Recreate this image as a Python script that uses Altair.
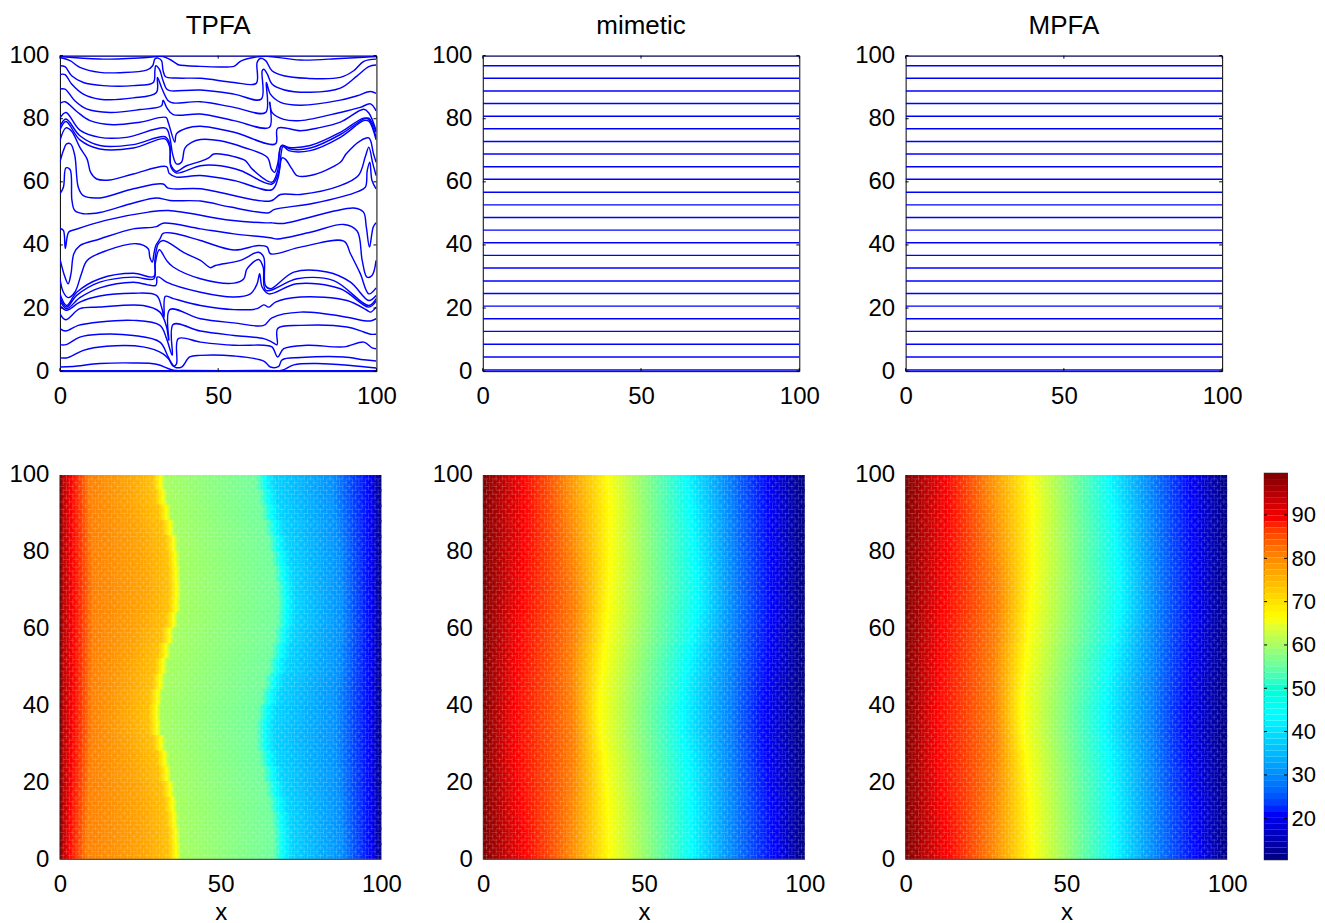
import altair as alt
import pandas as pd
import numpy as np

FONT = "Liberation Sans"
FS = 24
BLUE = "#0000ff"

# --- TPFA streamlines: (x, y) in data units
TPFA_LINES = [
 [(0,99.7),(12.6,98.9),(27.4,99.4),(32.6,99.7),(36.8,97.5),(37.4,97.1),(44.4,96.6),(55,96.6),(56,97.3),(57,98.2),(62.3,99.6),(65.5,99.8),(76,98.6),(88.6,99.1),(99.9,99.7)],
 [(0,99.4),(3.2,98.4),(6.3,96.3),(12.6,94.7),(19,94.6),(27.4,95.4),(29.3,96.8),(30,98.9),(31,99.2),(32.1,98.4),(32.6,95.2),(33.4,93.3),(36.8,92.9),(44.4,92.8),(55,91.5),(62,91.2),(62.3,97.8),(63.3,99.1),(65,98.4),(67,95.2),(70.7,93.6),(78,92.8),(88.6,93.1),(92.8,95.2),(96,98.2),(99.9,98.9)],
 [(0,96.8),(1.6,96.5),(3.7,93.6),(7.4,91.5),(13.7,90.5),(23.2,90.5),(29.5,91.5),(30,95.2),(30.3,96.8),(31.4,95.7),(32.6,92),(33.7,89.4),(34.7,88.9),(44.4,89.1),(55,87.8),(63.6,86.2),(63.9,95.2),(64.4,95.7),(65.5,94.2),(67,91),(70.7,89.2),(79.1,88.4),(88.6,89.7),(93.9,93.6),(97.6,96.5),(99.9,97)],
 [(0,94),(1.6,94),(3.7,91),(7.4,87.8),(12.6,86.2),(23.2,86.6),(30.5,88.3),(30.8,93.1),(32.1,89.9),(34.2,85.7),(35.8,85),(44.4,85.4),(55,83.6),(65,82),(65.2,91.5),(66.5,87.8),(69.7,85.2),(76,84.3),(88.6,85.9),(93.9,87.3),(98.1,88.6),(99.9,88)],
 [(0,89.4),(1.6,89.4),(4.7,85.7),(8.4,83.1),(15.8,82),(25.3,82.9),(32.1,84.1),(32.6,85.9),(33.7,83.6),(35.8,81.3),(44.4,81.5),(55,79.4),(66.2,77.3),(66.3,85.2),(67,82),(70.7,79.8),(76,79.4),(88.6,82),(94.9,83.6),(98.1,84.7),(99.9,82.5)],
 [(0,84.9),(1.6,85.4),(5.3,82.3),(9.5,79.4),(16.8,78.1),(25.3,78.9),(33.5,80.4),(34.2,78.9),(36.3,72.5),(36.8,75.2),(40,77),(44.4,77.6),(55,75.7),(68.1,72),(68.8,77),(76,76.2),(81.2,77),(88.6,78.9),(96,83),(97.6,81.8),(99.9,76.2)],
 [(0,80.2),(1.9,82),(6.3,76.4),(12.6,74.1),(21,74.1),(33.4,77),(34.7,74.1),(35.6,68.8),(36.8,65.7),(38.4,66.2),(39.5,70.7),(41.6,72.5),(44.4,73.4),(50.7,73),(58.1,70.9),(65.5,67.8),(66.8,64.1),(67.8,63),(68.8,65.7),(69.7,71),(70.4,71.5),(72.8,70.4),(79.1,70.7),(88.6,75),(96,79.9),(97.6,80.2),(99.9,75.7)],
 [(0,77.5),(1.9,79.9),(6.3,74.6),(12.6,71.5),(23.2,71.8),(33.2,74.3),(34.7,72),(34.9,65.7),(35.8,64.1),(36.8,63.3),(40,65.1),(44.4,66.5),(47,67.6),(48.6,68.8),(55,68),(58.6,66.7),(60.7,64.1),(67,59.9),(68.8,63.6),(70,71.5),(72.3,70.9),(79.1,71.5),(88.6,75.7),(96,80.2),(97.6,79.8),(99.9,74.1)],
 [(0,76.4),(1.9,79.1),(6.3,73.3),(12.6,70.4),(23.2,70.7),(33.2,73.6),(34.7,70.9),(35.1,64.6),(36.8,62.8),(44.4,65.1),(50.7,65.1),(57,63.6),(67,59.3),(69.1,63),(70.5,71.2),(72.3,69.9),(79.1,69.9),(88.6,74.1),(96,79.4),(97.6,79.2),(99.9,73.3)],
 [(0,73),(1.9,77.1),(3.7,76),(6.3,70.9),(8.6,67.2),(9.7,63),(11.6,60.9),(15.8,60.6),(23.2,62.5),(33.7,64.8),(34.5,62.7),(36.8,61.5),(44.4,62),(55,60.4),(67,57.5),(68.9,61.2),(70.2,67.6),(71.2,67.2),(73.3,64.1),(74.9,62),(79.1,62),(88.6,66.2),(90.4,68.8),(94.9,73),(97.6,73.9),(99.1,68.8),(99.9,66.2)],
 [(0,66.2),(1.1,69.9),(2.1,72),(3.4,72),(4.7,68.3),(5.8,58.3),(7.4,55.6),(12.6,54.9),(23.2,57.8),(32.6,59.3),(34.2,58),(44.4,57.8),(66.5,53.9),(69.7,56),(76,56),(88.6,58.8),(94.3,62),(96.5,68),(97.6,71),(98.8,66),(99.9,62)],
 [(0,56.2),(1.1,58.3),(1.9,64.4),(3.2,63.9),(3.8,54.1),(4.7,50.9),(7.4,49.9),(12.6,50.3),(23.2,53.3),(30.5,54.9),(34.7,54.1),(44.4,53.9),(53.9,52),(66,50.2),(67.6,51.2),(80.2,53.2),(94.3,57),(96.5,58.3),(97.1,63.6),(97.9,66.2),(98.6,60.4),(99.9,57.8)],
 [(0,45.2),(1.1,44.6),(1.7,38.9),(2.8,44.1),(4.9,44.9),(14.4,47.8),(28,50.4),(34.3,50.9),(53.9,47.8),(65,47),(67,47),(70.6,46.8),(92.8,51.7),(95.9,50.4),(96.8,45.7),(97.8,39.3),(99,45.7),(99.9,47)],
 [(0,35.6),(1.6,29.8),(2.6,27.7),(3.5,30.9),(4.4,37.2),(6.3,39.8),(12.6,41.9),(23.2,45.1),(30.5,45.8),(32.6,46.9),(44.4,45.1),(55,43.5),(66.5,42.3),(68.6,41.9),(79.1,44),(89.7,46.5),(93.9,44.4),(95.5,35.1),(97,29.8),(98.6,30.3),(99.9,35.1)],
 [(0,29.3),(1.1,25),(2.6,23.3),(4.7,25),(6.8,30.9),(8.6,35.1),(14.7,38.2),(24.2,40.4),(27.9,38.8),(28.4,36.1),(29.2,34.6),(29.7,37.2),(30.3,39.8),(31.6,41.9),(32.6,43.7),(35.8,43.7),(44.4,41.4),(55,38.4),(62.8,39.8),(65.5,39.3),(66.5,37.2),(76,39.3),(89.7,41.2),(91.8,37.2),(94.9,30.9),(97.6,24.5),(99.9,26.4)],
 [(0,24.5),(2.1,20.8),(5.3,25),(12.6,29.3),(23.2,31),(29.7,30),(30,35.1),(31.1,40.4),(32.6,41.4),(39.5,37.4),(44.4,35.1),(47.6,32.8),(49.1,33.5),(57,35.1),(62.8,37.7),(64.4,36.1),(64.9,27.2),(66.5,26.1),(73.9,31.4),(84.4,31.4),(91.8,28.2),(97.6,22.4),(99.9,24)],
 [(0,23.3),(2.1,20.3),(5.3,24),(12.6,28.2),(23.2,29.8),(29.7,29.3),(30.1,34),(31.4,38.5),(33.7,35.1),(35.8,33),(44.4,29.3),(55,27.9),(58.1,29.3),(59.1,32.4),(62.8,35.4),(64.2,33),(65.1,25.6),(74.9,29.3),(86.5,28.7),(97.6,20.8),(99.9,23)],
 [(0,22.4),(2.1,19.8),(6.3,23.3),(12.6,26.4),(23.2,28.2),(30.3,27.2),(30.7,29.8),(31.4,29.8),(33.7,28.2),(44.4,25),(55,23.5),(60.2,24.5),(62.3,27.7),(63.1,30.9),(63.9,26.6),(66,24.5),(74.9,27.7),(88.6,26.1),(97.6,20.3),(99.9,22.2)],
 [(0,20.8),(2.1,19.3),(6.3,21.9),(12.6,23.8),(23.2,24.7),(30.5,24),(32.1,20.3),(32.9,17.1),(33.3,23.7),(35.8,23),(44.4,20.8),(55,19.5),(62.3,19.8),(64.4,21),(66,20.3),(68.1,21.9),(76,23.5),(90.7,22.4),(97,19.3),(98.1,18.7),(99.9,20.3)],
 [(0,18.2),(1.8,16.3),(6.3,19.8),(12.6,20.3),(26.3,20.8),(31.6,18.7),(33.7,14),(34.4,9.8),(34.7,19.5),(44.4,16.6),(55,15.3),(64.4,14.5),(67,16.9),(76,18.7),(90.7,17.1),(96,16),(98.1,15.9),(99.9,16.6)],
 [(0,13.5),(1.8,12.7),(5.8,14.5),(12.6,15.6),(23.2,16.1),(31.6,14.5),(33.7,10.3),(35.5,5),(35.8,14.8),(44.4,12.7),(55,11.3),(64.4,10.3),(67,9.2),(68.6,8.4),(68.8,13.5),(76,14.5),(90.7,14),(96,12.4),(98.1,11.7),(99.9,11.7)],
 [(0,8.4),(1.9,8.4),(6.3,10.8),(12.6,11.7),(23.2,11.3),(31.6,9.2),(34.2,4.5),(35.8,1.6),(36.8,2.2),(37.4,10.3),(44.4,9.2),(55,8.2),(64.4,8.2),(67,7.7),(68.8,4.5),(70.7,7.1),(78.1,8.2),(89.7,7.7),(96,9.2),(98.6,7.4),(99.9,7.1)],
 [(0,4.2),(2.6,4.3),(7.4,6.6),(14.7,7.9),(26.3,7.7),(32.6,5.5),(34.7,3.4),(36.3,1.3),(38.4,1.3),(41,4.5),(44.4,5),(55,4.8),(64.4,3.2),(66.5,1.3),(69.1,1.5),(70.2,3.6),(76,4.3),(89.7,4.5),(96,3.6),(99.9,3.2)],
 [(0,1.3),(4.2,1.5),(12.6,2.4),(23.2,2.6),(30.5,2.2),(35.8,0.3),(40,0.2),(65,0.2),(70.2,0.3),(73.9,2),(81.2,2.4),(91.8,1.8),(99.9,1)],
 [(0,0.1),(99.9,0.1)],
 [(0,99.95),(99.9,99.95)],
]

# --- horizontal streamlines of the two other top panels
FLAT_LEVELS = [0.0,0.4,4.5,8.5,12.6,16.6,20.6,24.6,28.6,32.7,36.7,40.7,44.7,48.7,52.7,56.7,60.8,64.8,68.8,72.8,76.8,80.8,84.8,88.8,92.8,96.8,100.0]
X_ENDS = [0, 100]

# --- heat maps: for each row, the x at which a colour is reached
ROW_Y = [98,94,90,86,82,78,74,70,66,62,58,54,50,46,42,38,34,30,26,22,18,14,10,6,2]
ROW_HALF = 2.3

T_RED    = [3.6,3.6,3.7,3.8,3.9,4.0,4.0,4.1,4.2,4.2,4.2,4.2,4.2,4.2,4.2,4.0,4.0,3.9,3.8,3.6,3.4,3.2,3.0,2.9,2.8]
T_ORANGE = [9.0,9.2,9.4,9.6,9.8,10,10.2,10.2,10.2,10.2,10.2,10,10,9.8,9.8,9.8,9.8,9.6,9.4,9.2,9.0,8.8,8.6,8.4,8.2]
T_YELLOW = [31.3,32.0,33.1,34.3,35.3,35.8,36.1,36.3,36.1,35.3,34.1,33.0,32.0,31.2,30.4,30.0,30.2,31.4,32.5,33.2,34.3,35.0,35.5,36.0,36.2]
T_CYAN   = [63.9,64.8,65.7,66.8,67.8,68.8,69.5,70.2,70.5,70.3,69.6,68.8,67.8,66.6,65.5,64.5,63.9,64.0,65.0,66.0,67.0,68.0,68.8,69.2,69.3]
T_AZURE  = [85,85,85.5,86,86.5,87,87,87.5,87.5,87.5,87.5,87,87,86.5,86,86,86,86,86,86.5,86.5,87,87,87.5,87.5]
T_BLUE   = [96.4,96.4,96.5,96.5,96.6,96.6,96.6,96.7,96.7,96.7,96.7,96.6,96.6,96.6,96.6,96.5,96.5,96.5,96.5,96.5,96.6,96.6,96.7,96.7,96.8]

M_RED    = [12.5,12.8,13,13,12.8,12.6,12.2,12,11.8,11.4,11,10.8,10.5,10.2,10,9.8,9.8,10,10.2,10.5,11,11.4,12,12.6,13]
M_ORANGE = [25,25.5,26,26.5,27,27.5,28,28.3,28.5,28.3,28,27.6,27.4,27.3,27.5,27.6,27.8,28,27.8,27.6,27.4,27,26.8,26.6,26.4]
M_YELLOW = [38.8,39.3,39.4,39.4,39.4,39.4,39.3,39.1,38.8,38.4,38.2,37.6,37.2,36.7,36.3,36.2,36.5,36.9,37.6,38,38.4,38.7,38.9,39.1,39.3]
M_GREEN  = [51.2,51.5,51.8,52,52.2,52.4,52.6,52.6,52.4,52.1,51.6,51,50.4,50,49.6,49.4,49.4,49.8,50.4,50.9,51.3,51.6,51.9,52.1,52.3]
M_CYAN   = [63.2,63.9,64.5,65,65.3,65.8,66.2,66.4,66.4,65.8,65.1,64.1,63.3,62.7,62.2,61.9,61.8,62.4,63.3,63.7,64.1,64.4,64.6,64.7,64.7]
M_AZURE  = [76.7,77,77.3,77.6,77.8,78,78.2,78.4,78.4,78.2,78,77.8,77.6,77.3,77.1,77,77,77.2,77.4,77.6,77.8,78,78,78.2,78.2]
M_BLUE   = [88.6,88.8,89,89.2,89.4,89.6,89.8,89.8,89.8,89.6,89.4,89,88.6,88.2,87.8,87.5,87.5,87.8,88.2,88.8,89.2,89.8,90.2,90.5,90.7]

MESH_ODD = list(range(1, 100, 2))
MESH_EVEN = list(range(2, 100, 2))
X_TICKS = [0, 50, 100]
Y_TICKS = [0, 20, 40, 60, 80, 100]
CB_TICKS = [20, 30, 40, 50, 60, 70, 80, 90]
CB_MIN, CB_MAX = 10.5, 99.7
JET_T = [0, 0.125, 0.375, 0.625, 0.875, 1]
JET_C = ["#000080", "#0000ff", "#00ffff", "#ffff00", "#ff0000", "#800000"]


def make_axes(xtitle=None):
    ax_x = dict(values=X_TICKS, domain=False, ticks=False, grid=False, labelPadding=13, labelOverlap=False,
                labelFlush=False, title=None)
    if xtitle:
        ax_x.update(title=xtitle, titleX=161, titleY=60, titleFontWeight="normal", titleFontSize=FS,
                    titleFont=FONT, titleBaseline="alphabetic", titleColor="black")
    ax_y = dict(values=Y_TICKS, domain=False, ticks=False, grid=False, labelPadding=11, labelOverlap=False,
                labelFlush=False, title=None)
    return alt.Axis(**ax_x), alt.Axis(**ax_y)


def top_panel(title, lines, w=317, h=316):
    xs = alt.Scale(domain=[0, 100], nice=False, zero=False)
    ys = alt.Scale(domain=[0, 100], nice=False, zero=False)
    ax, ay = make_axes()
    rows = []
    for k, ln in enumerate(lines):
        for i, (x, y) in enumerate(ln):
            rows.append({"k": k, "i": i, "x": x, "y": y})
    curve = alt.Chart(pd.DataFrame(rows)).mark_line(color=BLUE, strokeWidth=1.45, clip=True, interpolate="catmull-rom").encode(
        x=alt.X("x:Q", scale=xs, axis=ax),
        y=alt.Y("y:Q", scale=ys, axis=ay),
        detail="k:N",
        order="i:Q",
    )
    yt = pd.DataFrame({"t": Y_TICKS})
    xt = pd.DataFrame({"t": X_TICKS})
    layers = [curve]
    for a, b in [(0, 3), (w - 3, w)]:
        layers.append(alt.Chart(yt).mark_rule(color="black").encode(
            y=alt.Y("t:Q", scale=ys, axis=ay), x=alt.value(a), x2=alt.value(b)))
    for a, b in [(h - 3, h), (0, 3)]:
        layers.append(alt.Chart(xt).mark_rule(color="black").encode(
            x=alt.X("t:Q", scale=xs, axis=ax), y=alt.value(a), y2=alt.value(b)))
    return alt.layer(*layers).properties(
        width=w, height=h,
        view=alt.ViewBackground(stroke="black", strokeWidth=1),
        title=alt.TitleParams(title, fontSize=26, fontWeight="normal", font=FONT, offset=5, color="black"),
    )


def heat_panel(columns, colors, w, h=387):
    xs = alt.Scale(domain=[0, 100 * w / 322], nice=False, zero=False)
    ys = alt.Scale(domain=[0, 100.52], nice=False, zero=False)
    ax, ay = make_axes("x")
    layers = []
    for r, yc in enumerate(ROW_Y):
        stops = [alt.GradientStop(color=c, offset=col[r] / 100) for col, c in zip(columns, colors)]
        top = min(yc + ROW_HALF, 100)
        low = max(yc - ROW_HALF, 0)
        d = pd.DataFrame({"a": [0], "b": [100], "lo": [low], "hi": [top]})
        layers.append(
            alt.Chart(d).mark_rect(color=alt.Gradient(gradient="linear", stops=stops, x1=0, x2=1, y1=0, y2=0)).encode(
                x=alt.X("a:Q", scale=xs, axis=ax), x2="b:Q",
                y=alt.Y("lo:Q", scale=ys, axis=ay), y2="hi:Q",
            )
        )
    for mesh, off in [(MESH_ODD, 0), (MESH_EVEN, 4.8)]:
        md = pd.DataFrame({"g": mesh, "a": 0, "b": 100})
        layers.append(alt.Chart(md).mark_rule(color="white", opacity=0.25, strokeWidth=0.7, strokeDash=[6.4, 3.2], strokeDashOffset=off).encode(
            x=alt.X("g:Q", scale=xs, axis=ax), y=alt.Y("a:Q", scale=ys, axis=ay), y2="b:Q"))
        layers.append(alt.Chart(md).mark_rule(color="white", opacity=0.25, strokeWidth=0.7, strokeDash=[6.4, 3.2], strokeDashOffset=off + 1.6).encode(
            y=alt.Y("g:Q", scale=ys, axis=ay), x=alt.X("a:Q", scale=xs, axis=ax), x2="b:Q"))
    base = pd.DataFrame({"a": [0], "b": [100], "y": [0]})
    layers.append(alt.Chart(base).mark_rule(color="#555555", strokeWidth=1.2).encode(
        x=alt.X("a:Q", scale=xs, axis=ax), x2="b:Q", y=alt.Y("y:Q", scale=ys, axis=ay)))
    left = pd.DataFrame({"x": [0], "a": [0], "b": [100]})
    layers.append(alt.Chart(left).mark_rule(color="#222222", strokeWidth=0.8).encode(
        x=alt.X("x:Q", scale=xs, axis=ax), y=alt.Y("a:Q", scale=ys, axis=ay), y2="b:Q"))
    return alt.layer(*layers).properties(width=w, height=h, view=alt.ViewBackground(stroke=None))


# colour stops: TPFA has a sharp front around yellow and around cyan
T_COLUMNS = [
    [0] * 25, [1.2] * 25, T_RED, T_ORANGE,
    [v - 10 for v in T_YELLOW], [v - 2.5 for v in T_YELLOW], T_YELLOW, [v + 1.5 for v in T_YELLOW],
    [v - 3 for v in T_CYAN], T_CYAN, [v + 3 for v in T_CYAN], T_AZURE, T_BLUE, [100] * 25,
]
T_COLORS = ["#800000", "#c00000", "#ff0000", "#ff8000", "#ffa400", "#ffc000", "#ffff00", "#a4ff5c",
            "#70ff9c", "#00ffff", "#00d4ff", "#0090ff", "#0000ff", "#000080"]
M_COLUMNS = [[0] * 25, M_RED, M_ORANGE, M_YELLOW, M_GREEN, M_CYAN, M_AZURE, M_BLUE, [100] * 25]
M_COLORS = ["#800000", "#ff0000", "#ff8000", "#ffff00", "#80ff80", "#00ffff", "#0080ff", "#0000ff", "#000080"]

# colour bar
edges = np.linspace(CB_MIN, CB_MAX, 65)
cb = pd.DataFrame({"lo": edges[:-1], "hi": edges[1:], "v": (edges[:-1] + edges[1:]) / 2})
cb_y = alt.Scale(domain=[CB_MIN, CB_MAX], nice=False, zero=False)
cb_color = alt.Scale(domain=[CB_MIN + t * (CB_MAX - CB_MIN) for t in JET_T], range=JET_C)
cb_ax = alt.Axis(orient="right", values=CB_TICKS, domain=False, ticks=False, grid=False, labelPadding=4,
                 labelFontSize=22, title=None, labelFlush=False)
cb_t = pd.DataFrame({"t": CB_TICKS})
bar = alt.layer(
    alt.Chart(cb).mark_rect(stroke=None).encode(
        x=alt.value(0), x2=alt.value(23),
        y=alt.Y("lo:Q", scale=cb_y, axis=cb_ax),
        y2="hi:Q",
        color=alt.Color("v:Q", scale=cb_color, legend=None),
    ),
    alt.Chart(cb_t).mark_rule(color="black").encode(y=alt.Y("t:Q", scale=cb_y, axis=cb_ax), x=alt.value(0), x2=alt.value(3)),
    alt.Chart(cb_t).mark_rule(color="black").encode(y=alt.Y("t:Q", scale=cb_y, axis=cb_ax), x=alt.value(20), x2=alt.value(23)),
).properties(width=23, height=387, view=alt.ViewBackground(stroke="#222222", strokeWidth=1.2))

flat = [[(X_ENDS[0], v), (X_ENDS[1], v)] for v in FLAT_LEVELS]

top_row = alt.hconcat(
    top_panel("TPFA", TPFA_LINES), top_panel("mimetic", flat), top_panel("MPFA", flat),
    spacing=106.5, bounds="flush",
)
bottom_row = alt.hconcat(
    heat_panel(T_COLUMNS, T_COLORS, 387),
    heat_panel(M_COLUMNS, M_COLORS, 386),
    heat_panel(M_COLUMNS, M_COLORS, 322),
    bar,
    spacing=37, bounds="flush",
)
chart = alt.vconcat(top_row, bottom_row, spacing=54).properties(
    padding={"top": 3, "left": 0, "right": 0, "bottom": 0}
).configure_axis(
    labelFont=FONT, labelFontSize=FS, labelColor="black", titleFont=FONT,
)

chart.save("out.html", embed_options={"renderer": "svg", "actions": False})
